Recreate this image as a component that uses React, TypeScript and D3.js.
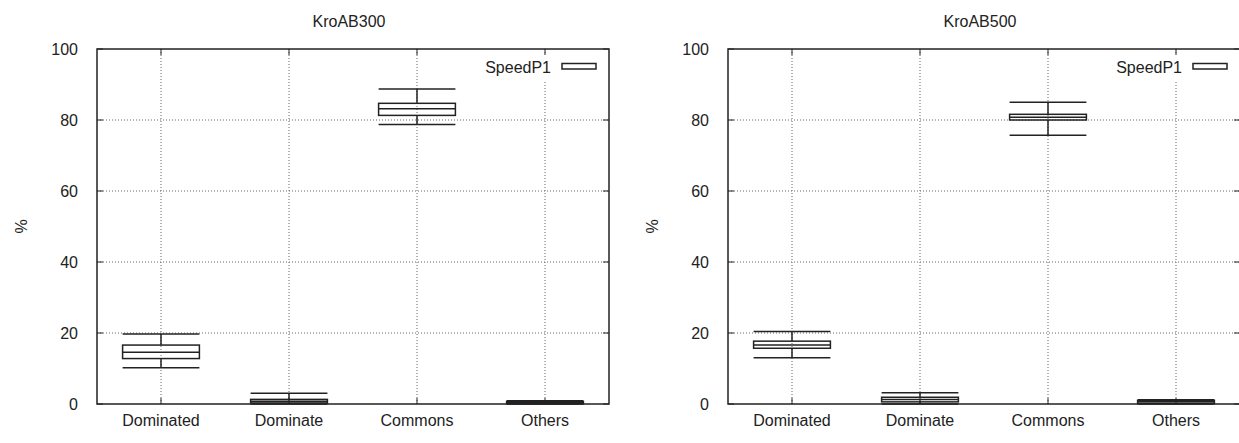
import React from "react";
import * as d3 from "d3";

// categories and five-number summaries (min, q1, median, q3, max) in %
const categories = ["Dominated", "Dominate", "Commons", "Others"];

const kro300 = [
  [10.2, 12.8, 14.6, 16.6, 19.7],
  [0.0, 0.3, 0.8, 1.3, 3.0],
  [78.7, 81.3, 83.2, 84.7, 88.7],
  [0.0, 0.1, 0.4, 0.7, 0.9],
];

const kro500 = [
  [13.0, 15.7, 16.6, 17.7, 20.4],
  [0.0, 0.6, 1.3, 1.9, 3.2],
  [75.7, 80.0, 80.8, 81.6, 85.0],
  [0.0, 0.2, 0.6, 1.0, 1.2],
];

const yTicks = [0, 20, 40, 60, 80, 100];
const seriesName = "SpeedP1";

const panels = [
  { title: "KroAB300", data: kro300, left: 97, right: 609 },
  { title: "KroAB500", data: kro500, left: 728, right: 1240 },
];

const top = 49;
const bottom = 404;
const font = "'Liberation Sans', Arial, sans-serif";

const Panel = ({ p }: { p: (typeof panels)[number] }) => {
  const x = d3.scalePoint<string>().domain(categories).range([p.left, p.right]).padding(0.5);
  const y = d3.scaleLinear().domain([0, 100]).range([bottom, top]);
  const bw = x.step() * 0.6;
  const grid = { stroke: "#666", strokeWidth: 1, strokeDasharray: "1,2" };
  const tick = 6;
  const legX = p.right - 58;

  return (
    <g>
      <text x={(p.left + p.right) / 2 - 4} y={27} textAnchor="middle" fontSize={16} fill="#222">
        {p.title}
      </text>
      <text
        transform={`translate(${p.left - 76},${(top + bottom) / 2}) rotate(-90)`}
        textAnchor="middle"
        dy="0.35em"
        fontSize={16}
        fill="#222"
      >
        %
      </text>

      {/* grid */}
      {yTicks.slice(1, -1).map((t) => (
        <line key={"gy" + t} x1={p.left} x2={p.right} y1={y(t)} y2={y(t)} {...grid} />
      ))}
      {categories.map((c) => (
        <line key={"gx" + c} x1={x(c)} x2={x(c)} y1={top} y2={bottom} {...grid} />
      ))}

      {/* legend background */}
      <rect x={legX - 64} y={53} width={p.right - legX + 50} height={27} fill="white" />

      {/* ticks */}
      {yTicks.map((t) => (
        <g key={"ty" + t}>
          <line x1={p.left} x2={p.left + tick} y1={y(t)} y2={y(t)} stroke="#222" />
          <line x1={p.right} x2={p.right - tick} y1={y(t)} y2={y(t)} stroke="#222" />
          <text x={p.left - 19} y={y(t)} dy="0.35em" textAnchor="end" fontSize={16} fill="#222">
            {t}
          </text>
        </g>
      ))}
      {categories.map((c) => (
        <g key={"tx" + c}>
          <line x1={x(c)} x2={x(c)} y1={bottom} y2={bottom - tick} stroke="#222" />
          <line x1={x(c)} x2={x(c)} y1={top} y2={top + tick} stroke="#222" />
          <text x={x(c)} y={bottom + 22} textAnchor="middle" fontSize={16} fill="#222">
            {c}
          </text>
        </g>
      ))}

      {/* boxes */}
      {p.data.map((d, i) => {
        const cx = x(categories[i])!;
        const [mn, q1, md, q3, mx] = d;
        return (
          <g key={"b" + i} stroke="#222" strokeWidth={1.5} fill="none">
            <line x1={cx} x2={cx} y1={y(mx)} y2={y(q3)} />
            <line x1={cx} x2={cx} y1={y(q1)} y2={y(mn)} />
            <line x1={cx - bw / 2} x2={cx + bw / 2} y1={y(mx)} y2={y(mx)} />
            <line x1={cx - bw / 2} x2={cx + bw / 2} y1={y(mn)} y2={y(mn)} />
            <rect x={cx - bw / 2} y={y(q3)} width={bw} height={y(q1) - y(q3)} />
            <line x1={cx - bw / 2} x2={cx + bw / 2} y1={y(md)} y2={y(md)} />
          </g>
        );
      })}

      {/* legend */}
      <text x={legX} y={73} textAnchor="end" fontSize={16} fill="#222">
        {seriesName}
      </text>
      <rect x={p.right - 47} y={63.5} width={34} height={5.5} fill="none" stroke="#222" strokeWidth={1.5} />

      {/* frame */}
      <rect x={p.left} y={top} width={p.right - p.left} height={bottom - top} fill="none" stroke="#222" strokeWidth={1.5} />
    </g>
  );
};

export default function App() {
  return (
    <div style={{ position: "fixed", left: 0, top: 0 }}>
      <svg width={1239} height={443} style={{ display: "block", background: "white", fontFamily: font }}>
        {panels.map((p) => (
          <Panel key={p.title} p={p} />
        ))}
      </svg>
    </div>
  );
}
